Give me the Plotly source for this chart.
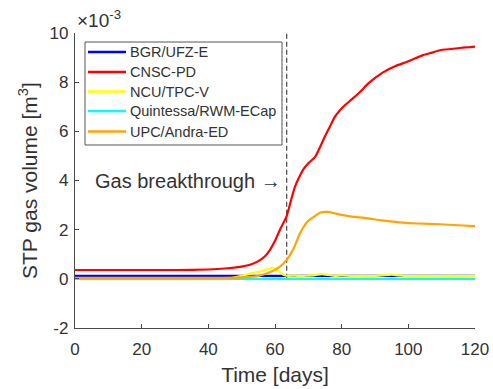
import plotly.graph_objects as go

# Cumulative STP gas volume (units of 1e-3 m^3) versus time in days
t_bgr = [0, 20, 40, 60, 80, 100, 120]
v_bgr = [0.12, 0.12, 0.12, 0.12, 0.12, 0.12, 0.12]

t_cnsc = [0, 10, 20, 30, 40, 45, 50, 52.5, 55, 57, 58.5, 60, 61.5, 63.5, 65, 66,
          67.5, 68.5, 70, 72, 73.5, 75, 76.5, 78, 80.5, 83, 85.5, 88, 92.4, 96, 100,
          104.4, 107, 109.5, 113, 116, 118, 120]
v_cnsc = [0.36, 0.36, 0.36, 0.36, 0.38, 0.42, 0.5, 0.57, 0.72, 0.92, 1.18, 1.55, 2.0,
          2.55, 3.3, 3.75, 4.2, 4.45, 4.7, 4.95, 5.35, 5.8, 6.2, 6.6, 7.0, 7.3, 7.6,
          7.95, 8.4, 8.65, 8.85, 9.1, 9.2, 9.3, 9.35, 9.4, 9.42, 9.45]

t_ncu = [0, 20, 40, 47, 50, 53, 56, 58, 59.5, 61, 62.5, 64, 66, 68, 70, 72, 74, 76,
         78, 80, 83, 86, 89, 92, 95, 97, 100, 104, 108, 112, 116, 120]
v_ncu = [0.0, 0.0, 0.0, 0.03, 0.12, 0.22, 0.32, 0.4, 0.45, 0.32, 0.17, 0.12, 0.13,
         0.11, 0.13, 0.15, 0.19, 0.16, 0.12, 0.14, 0.11, 0.12, 0.11, 0.14, 0.17, 0.14,
         0.11, 0.12, 0.11, 0.12, 0.11, 0.12]

t_quin = [0, 20, 40, 60, 80, 100, 120]
v_quin = [0.0, 0.0, 0.0, 0.0, 0.0, 0.0, 0.0]

t_upc = [0, 20, 40, 48, 52, 55, 57, 59, 61.5, 63.5, 65.5, 67.5, 69.5, 70.5, 72, 73.5,
         76, 78, 80, 83, 87.5, 92, 97.5, 103, 109.5, 115, 120]
v_upc = [0.04, 0.04, 0.04, 0.05, 0.08, 0.12, 0.2, 0.3, 0.5, 0.77, 1.2, 1.85, 2.29,
         2.42, 2.55, 2.69, 2.72, 2.66, 2.6, 2.53, 2.47, 2.38, 2.3, 2.25, 2.22, 2.18,
         2.14]

names = ["BGR/UFZ-E", "CNSC-PD", "NCU/TPC-V", "Quintessa/RWM-ECap", "UPC/Andra-ED"]
colors = ["#0000ff", "#ff0000", "#ffff00", "#00ffff", "#ffa500"]
series = [(t_bgr, v_bgr), (t_cnsc, v_cnsc), (t_ncu, v_ncu), (t_quin, v_quin), (t_upc, v_upc)]

breakthrough_day = 63.5

x_ticks = [0, 20, 40, 60, 80, 100, 120]
y_ticks = [-2, 0, 2, 4, 6, 8, 10]

axis_gray = "#4a4a4a"
text_gray = "#333333"
font_family = "Liberation Sans, Arial, sans-serif"

# plot area in pixels (used to place the boxed legend)
W, H = 493, 389
ML, MR, MT, MB = 75, 18, 33, 61
PW, PH = W - ML - MR, H - MT - MB


def px_x(p):
    return (p - ML) / PW


def px_y(p):
    return (H - MB - p) / PH


fig = go.Figure()

# breakthrough marker
fig.add_trace(go.Scatter(
    x=[breakthrough_day, breakthrough_day], y=[0, 10], mode="lines",
    line=dict(color="#555555", width=1.3, dash="5px,3px"),
    showlegend=False, hoverinfo="skip"))

for name, color, (t, v) in zip(names, colors, series):
    fig.add_trace(go.Scatter(
        x=t, y=v, mode="lines", name=name, showlegend=False,
        line=dict(color=color, width=2.2, shape="spline", smoothing=0.5)))

# boxed legend
fig.add_shape(type="rect", xref="paper", yref="paper",
              x0=px_x(85), x1=px_x(282), y0=px_y(145), y1=px_y(42),
              line=dict(color="#555555", width=1), fillcolor="white", layer="above")
row_y = [52, 72, 91.5, 111, 131.5]
for name, color, ry in zip(names, colors, row_y):
    fig.add_shape(type="line", xref="paper", yref="paper",
                  x0=px_x(88), x1=px_x(126), y0=px_y(ry), y1=px_y(ry),
                  line=dict(color=color, width=2.5), layer="above")
    fig.add_annotation(x=px_x(128), y=px_y(ry), xref="paper", yref="paper",
                       text=name, showarrow=False, xanchor="left", yanchor="middle",
                       font=dict(family=font_family, size=14.5, color=text_gray))

fig.add_annotation(
    x=breakthrough_day - 1, y=4, xref="x", yref="y",
    text="Gas breakthrough \u2192", showarrow=False,
    xanchor="right", yanchor="middle",
    font=dict(family=font_family, size=20, color=text_gray))

fig.add_annotation(
    x=0, y=1, xref="paper", yref="paper",
    text="\u00d710<sup>-3</sup>", showarrow=False,
    xanchor="left", yanchor="bottom", yshift=0,
    font=dict(family=font_family, size=19, color=text_gray))

fig.add_annotation(
    x=0, y=px_y(181), xref="paper", yref="paper",
    text="STP gas volume [m<sup>3</sup>]", showarrow=False, textangle=-90,
    xanchor="center", yanchor="middle", xshift=-47,
    font=dict(family=font_family, size=21, color=text_gray))

fig.update_layout(
    width=W, height=H,
    margin=dict(l=ML, r=MR, t=MT, b=MB),
    paper_bgcolor="white", plot_bgcolor="white",
    font=dict(family=font_family, color=text_gray),
    showlegend=False,
    xaxis=dict(
        range=[0, 120], tickvals=x_ticks, ticktext=[str(v) for v in x_ticks],
        showline=True, linecolor=axis_gray, linewidth=1.3,
        ticks="inside", ticklen=4, tickcolor=axis_gray,
        showgrid=False, zeroline=False, automargin=False,
        ticklabelstandoff=5,
        tickfont=dict(family=font_family, size=17, color=text_gray),
        title=dict(text="Time [days]", standoff=9,
                   font=dict(family=font_family, size=21, color=text_gray))),
    yaxis=dict(
        range=[-2, 10], tickvals=y_ticks, ticktext=[str(v) for v in y_ticks],
        showline=True, linecolor=axis_gray, linewidth=1.3,
        ticks="inside", ticklen=4, tickcolor=axis_gray,
        showgrid=False, zeroline=False, automargin=False,
        ticklabelstandoff=2,
        tickfont=dict(family=font_family, size=17, color=text_gray)),
)

fig.write_html("out.html")
